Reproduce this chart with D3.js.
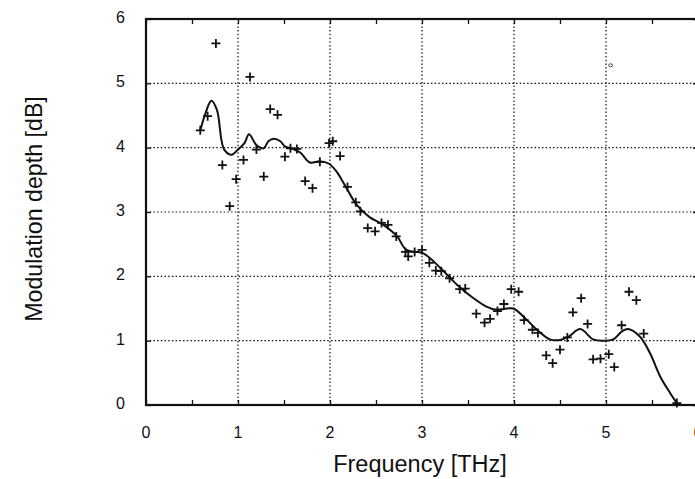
<!DOCTYPE html>
<html>
<head>
<meta charset="utf-8">
<script src="https://cdn.jsdelivr.net/npm/d3@7"></script>
<style>
  body { margin: 0; background: #fff; }
  text { font-family: "Liberation Sans", Arial, sans-serif; fill: #111; }
</style>
</head>
<body>
<div id="chart-area"></div>
<script>
// Data
// ****
// measured points (frequency THz, modulation depth dB)
const measFreq = [0.59, 0.67, 0.76, 0.83, 0.91, 0.98, 1.06, 1.13, 1.20, 1.28, 1.35, 1.43, 1.51, 1.57, 1.64,
  1.73, 1.81, 1.89, 1.99, 2.03, 2.11, 2.19, 2.28, 2.33, 2.41, 2.49, 2.56, 2.63, 2.72, 2.82, 2.85, 2.92,
  3.00, 3.08, 3.15, 3.21, 3.30, 3.41, 3.47, 3.59, 3.68, 3.74, 3.82, 3.89, 3.97, 4.05, 4.11, 4.20, 4.26,
  4.35, 4.42, 4.50, 4.58, 4.64, 4.73, 4.80, 4.86, 4.94, 5.03, 5.09, 5.17, 5.25, 5.33, 5.41, 5.77]
const measDepth = [4.27, 4.49, 5.62, 3.73, 3.09, 3.51, 3.81, 5.10, 3.97, 3.55, 4.60, 4.51, 3.86, 3.99, 3.98,
  3.48, 3.37, 3.78, 4.07, 4.10, 3.87, 3.39, 3.15, 3.01, 2.75, 2.70, 2.83, 2.80, 2.62, 2.38, 2.31, 2.38,
  2.41, 2.21, 2.09, 2.08, 1.97, 1.80, 1.81, 1.42, 1.28, 1.34, 1.46, 1.57, 1.80, 1.76, 1.32, 1.17, 1.12,
  0.77, 0.65, 0.86, 1.05, 1.44, 1.66, 1.26, 0.71, 0.72, 0.79, 0.59, 1.24, 1.76, 1.63, 1.11, 0.03]

// fitted curve
const fitFreq = [0.59, 0.65, 0.71, 0.77, 0.82, 0.85, 0.93, 1.00, 1.07, 1.12, 1.20, 1.28, 1.33, 1.39, 1.46,
  1.51, 1.60, 1.68, 1.78, 1.89, 1.99, 2.07, 2.16, 2.29, 2.43, 2.58, 2.73, 2.83, 3.01, 3.20, 3.38, 3.56,
  3.70, 3.81, 3.99, 4.12, 4.25, 4.39, 4.50, 4.59, 4.72, 4.86, 4.97, 5.08, 5.17, 5.24, 5.37, 5.48, 5.59,
  5.70, 5.77]
const fitDepth = [4.27, 4.55, 4.73, 4.59, 4.12, 3.97, 3.89, 3.97, 4.07, 4.21, 4.04, 3.99, 4.10, 4.14, 4.10,
  4.02, 3.98, 3.92, 3.77, 3.79, 3.75, 3.63, 3.42, 3.11, 2.92, 2.80, 2.62, 2.41, 2.36, 2.13, 1.87, 1.66,
  1.53, 1.48, 1.50, 1.35, 1.17, 1.02, 1.01, 1.06, 1.18, 1.02, 1.00, 1.02, 1.14, 1.18, 1.06, 0.80, 0.44,
  0.18, 0.03]

const xTicks = [0, 1, 2, 3, 4, 5, 6]
const yTicks = [0, 1, 2, 3, 4, 5, 6]
const xMinor = [0.5, 1.5, 2.5, 3.5, 4.5, 5.5]

// Config
// ******
const margin = {top: 19, right: 0, bottom: 74, left: 146}
const W = 695, H = 479
const width = 552, height = 386

const svg = d3.select("#chart-area")
  .append("svg")
    .attr("width", W)
    .attr("height", H)

const g = svg.append("g")
  .attr("transform", "translate(" + margin.left + ", " + margin.top + ")")

const x_scale = d3.scaleLinear().domain([0, 6]).range([0, width])
const y_scale = d3.scaleLinear().domain([0, 6]).range([height, 0])

// Grid
// ****
g.append("g").selectAll("line").data(xTicks.slice(1, -1)).enter().append("line")
  .attr("x1", d => x_scale(d)).attr("x2", d => x_scale(d))
  .attr("y1", 0).attr("y2", height)
  .attr("stroke", "#111").attr("stroke-width", 1.2).attr("stroke-dasharray", "1.5,2.2")

g.append("g").selectAll("line").data(yTicks.slice(1, -1)).enter().append("line")
  .attr("y1", d => y_scale(d)).attr("y2", d => y_scale(d))
  .attr("x1", 0).attr("x2", width)
  .attr("stroke", "#111").attr("stroke-width", 1.2).attr("stroke-dasharray", "1.5,2.2")

// Axes (inward ticks, labels drawn separately)
// ****
const tickLen = 5
g.append("g").attr("transform", "translate(0," + height + ")")
  .call(d3.axisBottom(x_scale).tickValues(xTicks.concat(xMinor)).tickSize(-tickLen).tickFormat(""))
g.append("g")
  .call(d3.axisTop(x_scale).tickValues(xTicks.concat(xMinor)).tickSize(-tickLen).tickFormat(""))
g.append("g")
  .call(d3.axisLeft(y_scale).tickValues(yTicks).tickSize(-tickLen).tickFormat(""))
g.append("g").attr("transform", "translate(" + width + ",0)")
  .call(d3.axisRight(y_scale).tickValues(yTicks).tickSize(-tickLen).tickFormat(""))
g.selectAll(".domain").remove()
g.selectAll(".tick line").attr("stroke", "#111").attr("stroke-width", 1.3)

// frame
g.append("rect")
  .attr("x", 0).attr("y", 0).attr("width", width).attr("height", height)
  .attr("fill", "none").attr("stroke", "#111").attr("stroke-width", 2.2)

// tick labels
g.append("g").selectAll("text").data(xTicks).enter().append("text")
  .attr("x", d => x_scale(d))
  .attr("y", height + 33)
  .attr("text-anchor", "middle")
  .attr("font-size", "16px")
  .text(d => d)

g.append("g").selectAll("text").data(yTicks).enter().append("text")
  .attr("x", -21)
  .attr("y", d => y_scale(d) + 4)
  .attr("text-anchor", "end")
  .attr("font-size", "16px")
  .text(d => d)

// axis titles
svg.append("text")
  .attr("x", 420)
  .attr("y", 472)
  .attr("text-anchor", "middle")
  .attr("font-size", "23.5px")
  .text("Frequency [THz]")

svg.append("text")
  .attr("transform", "translate(42, 209) rotate(-90)")
  .attr("text-anchor", "middle")
  .attr("font-size", "23.2px")
  .text("Modulation depth [dB]")

// Fitted curve
// ************
const fit = fitFreq.map((f, i) => ({f: f, d: fitDepth[i]}))
g.append("path")
  .datum(fit)
  .attr("fill", "none")
  .attr("stroke", "#111")
  .attr("stroke-width", 2)
  .attr("d", d3.line().x(d => x_scale(d.f)).y(d => y_scale(d.d)).curve(d3.curveCatmullRom.alpha(0.5)))

// Measured points
// ***************
const meas = measFreq.map((f, i) => ({f: f, d: measDepth[i]}))
const s = 4.5
g.append("g").selectAll("path").data(meas).enter().append("path")
  .attr("d", d => {
    const cx = x_scale(d.f), cy = y_scale(d.d)
    return "M" + (cx - s) + "," + cy + "H" + (cx + s) + "M" + cx + "," + (cy - s) + "V" + (cy + s)
  })
  .attr("stroke", "#111")
  .attr("stroke-width", 1.8)

// stray small circle mark in the original scan
g.append("ellipse")
  .attr("cx", x_scale(5.05)).attr("cy", y_scale(5.28))
  .attr("rx", 2).attr("ry", 1.5)
  .attr("fill", "none").attr("stroke", "#333").attr("stroke-width", 0.9)
</script>
</body>
</html>
